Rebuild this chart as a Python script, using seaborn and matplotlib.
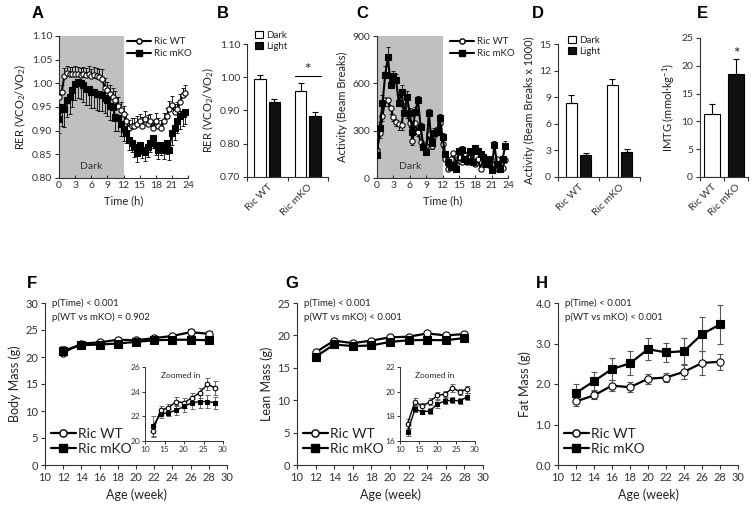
import numpy as np
import pandas as pd
import seaborn as sns
import matplotlib.pyplot as plt
from matplotlib.ticker import FormatStrFormatter, MultipleLocator
from matplotlib.lines import Line2D
from matplotlib.patches import Patch

# ---- data ----
hours = np.arange(0, 24, 0.5)

rer_wt = [0.971, 0.982, 1.015, 1.022, 1.020, 1.019, 1.020, 1.019, 1.017, 1.020, 1.017, 1.019, 1.015,
          1.017, 1.015, 1.013, 1.010, 0.991, 0.985, 0.977, 0.971, 0.965, 0.953, 0.943, 0.936,
          0.920, 0.905, 0.910, 0.910, 0.915, 0.920, 0.910, 0.925, 0.915, 0.920, 0.905, 0.920,
          0.910, 0.905, 0.920, 0.930, 0.945, 0.955, 0.940, 0.945, 0.960, 0.975, 0.980]
rer_wt_err = [0.015, 0.015, 0.018, 0.015, 0.015, 0.016, 0.017, 0.016, 0.016, 0.015, 0.016, 0.017, 0.016,
              0.017, 0.018, 0.018, 0.020, 0.020, 0.018, 0.020, 0.020, 0.018, 0.018, 0.017, 0.016,
              0.016, 0.018, 0.016, 0.017, 0.016, 0.016, 0.018, 0.017, 0.018, 0.016, 0.018, 0.017,
              0.016, 0.017, 0.018, 0.018, 0.017, 0.018, 0.016, 0.016, 0.017, 0.016, 0.017]
rer_ko = [0.925, 0.950, 0.946, 0.964, 0.971, 0.985, 0.999, 1.003, 1.000, 0.996, 0.989, 0.987, 0.982,
          0.982, 0.978, 0.977, 0.975, 0.970, 0.964, 0.953, 0.950, 0.929, 0.927, 0.915, 0.904,
          0.895, 0.880, 0.875, 0.865, 0.852, 0.870, 0.860, 0.855, 0.865, 0.875, 0.885, 0.870,
          0.860, 0.870, 0.860, 0.875, 0.860, 0.895, 0.905, 0.920, 0.930, 0.935, 0.940]
rer_ko_err = [0.030, 0.040, 0.038, 0.035, 0.036, 0.035, 0.034, 0.033, 0.034, 0.035, 0.034, 0.033, 0.034,
              0.035, 0.034, 0.035, 0.033, 0.032, 0.033, 0.030, 0.030, 0.030, 0.028, 0.026, 0.025,
              0.022, 0.020, 0.020, 0.021, 0.018, 0.020, 0.018, 0.020, 0.020, 0.020, 0.021, 0.022,
              0.020, 0.022, 0.020, 0.024, 0.022, 0.025, 0.024, 0.025, 0.026, 0.025, 0.026]

act_wt = [177, 283, 395, 494, 494, 441, 389, 357, 342, 336, 456, 410, 351,
          234, 351, 289, 230, 209, 203, 277, 205, 272, 304, 347, 215,
          120, 60, 120, 160, 90, 130, 100, 150, 100, 130, 110, 90,
          120, 55, 130, 100, 80, 90, 60, 120, 70, 65, 115]
act_wt_err = [20, 30, 35, 40, 40, 35, 30, 30, 35, 30, 35, 30, 30,
              25, 30, 25, 25, 20, 20, 25, 20, 25, 25, 30, 20,
              15, 10, 15, 20, 12, 15, 12, 18, 12, 15, 12, 12,
              15, 10, 15, 12, 10, 12, 10, 15, 10, 10, 15]
act_ko = [146, 315, 473, 653, 765, 589, 646, 621, 473, 547, 410, 515, 410,
          294, 420, 494, 325, 198, 167, 410, 220, 287, 294, 378, 258,
          150, 100, 70, 80, 60, 170, 180, 120, 110, 170, 100, 190,
          170, 150, 130, 90, 120, 50, 210, 90, 60, 120, 205]
act_ko_err = [25, 40, 50, 55, 65, 45, 35, 40, 40, 40, 35, 35, 35,
              30, 30, 25, 25, 20, 20, 25, 25, 30, 30, 30, 25,
              20, 15, 15, 15, 12, 20, 20, 15, 15, 20, 15, 20,
              20, 18, 15, 15, 15, 10, 25, 15, 12, 15, 30]

genotypes = ['Ric WT', 'Ric mKO']
phases = ['Dark', 'Light']

rer_bar = [0.995, 0.925, 0.960, 0.883]      # WT dark, WT light, mKO dark, mKO light
rer_bar_err = [0.013, 0.010, 0.024, 0.013]
act_bar = [8.3, 2.5, 10.4, 2.8]
act_bar_err = [0.9, 0.2, 0.7, 0.35]
imtg = [11.3, 18.5]
imtg_err = [1.8, 2.7]

weeks = [12, 14, 16, 18, 20, 22, 24, 26, 28]
body_wt = [20.8, 22.5, 22.7, 23.2, 23.1, 23.5, 23.9, 24.6, 24.3]
body_wt_err = [0.45, 0.30, 0.30, 0.40, 0.40, 0.40, 0.40, 0.50, 0.55]
body_ko = [21.2, 22.2, 22.3, 22.5, 22.8, 23.1, 23.2, 23.2, 23.1]
body_ko_err = [0.80, 0.35, 0.30, 0.40, 0.45, 0.50, 0.55, 0.55, 0.50]
lean_wt = [17.4, 19.2, 18.8, 19.2, 19.7, 19.8, 20.3, 20.0, 20.2]
lean_wt_err = [0.35, 0.30, 0.30, 0.30, 0.30, 0.25, 0.30, 0.25, 0.30]
lean_ko = [16.7, 18.6, 18.35, 18.45, 19.0, 19.25, 19.3, 19.25, 19.6]
lean_ko_err = [0.30, 0.25, 0.20, 0.25, 0.30, 0.25, 0.25, 0.25, 0.30]
fat_wt = [1.57, 1.72, 1.96, 1.92, 2.13, 2.16, 2.30, 2.52, 2.55]
fat_wt_err = [0.12, 0.10, 0.13, 0.12, 0.12, 0.10, 0.18, 0.30, 0.20]
fat_ko = [1.78, 2.07, 2.37, 2.51, 2.86, 2.78, 2.81, 3.23, 3.47]
fat_ko_err = [0.22, 0.22, 0.28, 0.30, 0.27, 0.23, 0.32, 0.42, 0.48]

# ---- style ----
sns.set_theme(style='ticks')
plt.rcParams['font.family'] = ['Lato', 'DejaVu Sans']
plt.rcParams['mathtext.fontset'] = 'custom'
plt.rcParams['mathtext.rm'] = 'Lato'
plt.rcParams['mathtext.default'] = 'rm'
plt.rcParams['axes.edgecolor'] = '#333333'
plt.rcParams['xtick.color'] = '#333333'
plt.rcParams['ytick.color'] = '#333333'
plt.rcParams['text.color'] = '#222222'
plt.rcParams['axes.labelcolor'] = '#222222'

W, H = 756, 507
fig = plt.figure(figsize=(W / 100, H / 100), dpi=100)


def box(x0, x1, y0, y1):
    # pixel box -> figure fraction
    return [x0 / W, 1 - y1 / H, (x1 - x0) / W, (y1 - y0) / H]


def tidy(ax, fs=7.5, lw=0.8):
    sns.despine(ax=ax)
    for s in ['left', 'bottom']:
        ax.spines[s].set_linewidth(lw)
    ax.tick_params(labelsize=fs, length=3, width=lw, pad=2)


def long_df(x, wt, wt_e, ko, ko_e):
    return pd.DataFrame({
        'x': list(x) * 2,
        'y': list(wt) + list(ko),
        'e': list(wt_e) + list(ko_e),
        'group': [genotypes[0]] * len(wt) + [genotypes[1]] * len(ko),
    })


def draw_series(ax, df, ms, lw, cap, sides=('both', 'both'), ecolor='black', elw=0.7):
    styles = {genotypes[0]: ('o', 'white'), genotypes[1]: ('s', 'black')}
    for g, side in zip(genotypes, sides):
        sub = df[df['group'] == g]
        e = sub['e'].values
        zero = np.zeros_like(e)
        if side == 'up':
            yerr = [zero, e]
        elif side == 'down':
            yerr = [e, zero]
        else:
            yerr = e
        ax.errorbar(sub['x'], sub['y'], yerr=yerr, fmt='none', ecolor=ecolor,
                    elinewidth=elw, capsize=cap, capthick=elw, zorder=1)
        m, fc = styles[g]
        sns.lineplot(data=sub, x='x', y='y', ax=ax, color='black', linewidth=lw,
                     marker=m, markersize=ms, markerfacecolor=fc,
                     markeredgecolor='black', markeredgewidth=0.8, zorder=3,
                     errorbar=None, legend=False)
    ax.set_xlabel('')
    ax.set_ylabel('')


def geno_handles(ms, lw):
    return [Line2D([], [], color='black', lw=lw, marker='o', ms=ms, mfc='white', mec='black'),
            Line2D([], [], color='black', lw=lw, marker='s', ms=ms, mfc='black', mec='black')]


def draw_bars(ax, vals, errs):
    df = pd.DataFrame({'genotype': [genotypes[0]] * 2 + [genotypes[1]] * 2,
                       'phase': phases * 2, 'value': vals, 'err': errs})
    sns.barplot(data=df, x='genotype', y='value', hue='phase', ax=ax,
                palette={'Dark': 'white', 'Light': '#111111'}, edgecolor='black',
                linewidth=0.8, width=0.7, gap=0.2, errorbar=None, legend=False)
    for cont, ph in zip(ax.containers, phases):
        sub = df[df['phase'] == ph]
        xs = [b.get_x() + b.get_width() / 2 for b in cont]
        ax.errorbar(xs, sub['value'], yerr=[np.zeros(len(sub)), sub['err']], fmt='none',
                    ecolor='black', elinewidth=0.8, capsize=2.5, capthick=0.8)
    ax.set_xlim(-0.5, 1.5)
    ax.set_xlabel('')
    ax.set_ylabel('')
    ax.set_xticks([0, 1])
    ax.set_xticklabels(genotypes, rotation=45, ha='right', rotation_mode='anchor')
    ax.set_xticks([-0.5, 0.5, 1.5], minor=True)
    hd = [Patch(facecolor='white', edgecolor='black', lw=0.8),
          Patch(facecolor='#111111', edgecolor='black', lw=0.8)]
    return hd


def bar_ticks(ax):
    ax.tick_params(axis='x', which='major', length=0, pad=4)
    ax.tick_params(axis='x', which='minor', length=3, width=0.8)


# ---- A: RER time course ----
axA = fig.add_axes(box(59, 188, 36, 178))
axA.axvspan(0, 12, color='#c0c0c0', lw=0, zorder=0)
draw_series(axA, long_df(hours, rer_wt, rer_wt_err, rer_ko, rer_ko_err),
            ms=3.8, lw=1.5, cap=1.3, sides=('up', 'down'), elw=0.6)
axA.set_xlim(0, 24)
axA.set_ylim(0.80, 1.10)
axA.set_xticks(range(0, 25, 3))
axA.yaxis.set_major_locator(MultipleLocator(0.05))
axA.yaxis.set_major_formatter(FormatStrFormatter('%.2f'))
tidy(axA)
axA.tick_params(axis='x', direction='in', length=2.5)
axA.set_xlabel('Time (h)', fontsize=8, labelpad=4)
axA.set_ylabel('RER (VCO$_2$/VO$_2$)', fontsize=8, labelpad=3)
axA.text(6, 0.825, 'Dark', ha='center', va='center', fontsize=7.5, color='#333333')
axA.legend(geno_handles(3.8, 1.5), genotypes, loc='upper left', bbox_to_anchor=(0.5, 1.02),
           frameon=False, fontsize=7, handlelength=2.4, handletextpad=0.3, labelspacing=0.3,
           borderaxespad=0)

# ---- B: RER bars ----
axB = fig.add_axes(box(247, 328, 44, 177))
hb = draw_bars(axB, rer_bar, rer_bar_err)
axB.set_ylim(0.70, 1.10)
axB.yaxis.set_major_locator(MultipleLocator(0.10))
axB.yaxis.set_major_formatter(FormatStrFormatter('%.2f'))
tidy(axB)
bar_ticks(axB)
axB.set_ylabel('RER (VCO$_2$/VO$_2$)', fontsize=8, labelpad=3)
axB.plot([0.68, 1.33], [1.005, 1.005], color='black', lw=0.8)
axB.text(1.0, 1.002, '*', ha='center', va='bottom', fontsize=11)
axB.legend(hb, phases, loc='upper left', bbox_to_anchor=(0.05, 1.13), frameon=False,
           fontsize=7, handlelength=0.8, handleheight=0.8, handletextpad=0.3,
           labelspacing=0.2, borderaxespad=0)

# ---- C: activity time course ----
axC = fig.add_axes(box(377, 508, 36, 178))
axC.axvspan(0, 12, color='#c0c0c0', lw=0, zorder=0)
draw_series(axC, long_df(hours, act_wt, act_wt_err, act_ko, act_ko_err),
            ms=3.8, lw=1.5, cap=1.3, sides=('down', 'up'), elw=0.6)
axC.set_xlim(0, 24)
axC.set_ylim(0, 900)
axC.set_xticks(range(0, 25, 3))
axC.yaxis.set_major_locator(MultipleLocator(300))
tidy(axC)
axC.tick_params(axis='x', direction='in', length=2.5)
axC.set_xlabel('Time (h)', fontsize=8, labelpad=4)
axC.set_ylabel('Activity (Beam Breaks)', fontsize=8, labelpad=3)
axC.text(6, 75, 'Dark', ha='center', va='center', fontsize=7.5, color='#333333')
axC.legend(geno_handles(3.8, 1.5), genotypes, loc='upper left', bbox_to_anchor=(0.53, 1.02),
           frameon=False, fontsize=7, handlelength=2.4, handletextpad=0.3, labelspacing=0.3,
           borderaxespad=0)

# ---- D: activity bars ----
axD = fig.add_axes(box(558, 640, 44, 177))
hd = draw_bars(axD, act_bar, act_bar_err)
axD.set_ylim(0, 15)
axD.yaxis.set_major_locator(MultipleLocator(3))
tidy(axD)
bar_ticks(axD)
axD.set_ylabel('Activity (Beam Breaks x 1000)', fontsize=8, labelpad=3)
axD.legend(hd, phases, loc='upper left', bbox_to_anchor=(0.08, 1.09), frameon=False,
           fontsize=7, handlelength=0.8, handleheight=0.8, handletextpad=0.3,
           labelspacing=0.2, borderaxespad=0)

# ---- E: IMTG ----
axE = fig.add_axes(box(700, 748, 38, 177))
dfE = pd.DataFrame({'genotype': genotypes, 'value': imtg, 'err': imtg_err})
sns.barplot(data=dfE, x='genotype', y='value', hue='genotype', ax=axE,
            palette={genotypes[0]: 'white', genotypes[1]: '#111111'}, edgecolor='black',
            linewidth=0.8, width=0.65, errorbar=None, legend=False)
axE.errorbar([0, 1], dfE['value'], yerr=[np.zeros(2), dfE['err']], fmt='none',
             ecolor='black', elinewidth=0.8, capsize=2.5, capthick=0.8)
axE.set_xlim(-0.5, 1.5)
axE.set_ylim(0, 25)
axE.yaxis.set_major_locator(MultipleLocator(5))
tidy(axE)
axE.set_xticks([0, 1])
axE.set_xticklabels(genotypes, rotation=45, ha='right', rotation_mode='anchor')
axE.set_xticks([-0.5, 0.5, 1.5], minor=True)
bar_ticks(axE)
axE.set_xlabel('')
axE.set_ylabel('IMTG (mmol·kg$^{-1}$)', fontsize=8, labelpad=3)
axE.text(1, 20.8, '*', ha='center', va='bottom', fontsize=11)

# ---- F, G, H: body composition ----
panels = [
    ('F', box(45, 227, 303, 465), (0, 30, 5), 'Body Mass (g)', body_wt, body_wt_err, body_ko, body_ko_err,
     'p(WT vs mKO) = 0.902', box(145, 223, 367, 441), (20, 26, 2), '%.0f'),
    ('G', box(297, 483, 303, 465), (0, 25, 5), 'Lean Mass (g)', lean_wt, lean_wt_err, lean_ko, lean_ko_err,
     'p(WT vs mKO) < 0.001', box(400, 475, 367, 441), (16, 22, 2), '%.0f'),
    ('H', box(558, 738, 303, 465), (0, 4, 1), 'Fat Mass (g)', fat_wt, fat_wt_err, fat_ko, fat_ko_err,
     'p(WT vs mKO) < 0.001', None, None, '%.1f'),
]

for name, pos, ylim, ylabel, wt, wt_e, ko, ko_e, ptxt, inset, ilim, fmt in panels:
    ax = fig.add_axes(pos)
    df = long_df(weeks, wt, wt_e, ko, ko_e)
    draw_series(ax, df, ms=5.2, lw=1.6, cap=2.5, ecolor='#555555', elw=0.8)
    ax.set_xlim(10, 30)
    ax.set_xticks(range(10, 31, 2))
    ax.set_ylim(ylim[0], ylim[1])
    ax.yaxis.set_major_locator(MultipleLocator(ylim[2]))
    ax.yaxis.set_major_formatter(FormatStrFormatter(fmt))
    tidy(ax, fs=8)
    ax.set_xlabel('Age (week)', fontsize=9, labelpad=4)
    ax.set_ylabel(ylabel, fontsize=9, labelpad=3)
    ax.text(0.04, 1.0, 'p(Time) < 0.001', transform=ax.transAxes, fontsize=7, va='center')
    ax.text(0.04, 0.915, ptxt, transform=ax.transAxes, fontsize=7, va='center')
    ax.legend(geno_handles(5.2, 1.6), genotypes, loc='lower left', bbox_to_anchor=(0.0, 0.03),
              frameon=False, fontsize=10, handlelength=1.8, handletextpad=0.2, labelspacing=0.2,
              borderaxespad=0)
    if inset is not None:
        ai = fig.add_axes(inset)
        draw_series(ai, df, ms=3.3, lw=1.0, cap=1.8, ecolor='#555555', elw=0.6)
        ai.set_xlim(10, 30)
        ai.set_xticks(range(10, 31, 5))
        ai.set_ylim(ilim[0], ilim[1])
        ai.yaxis.set_major_locator(MultipleLocator(ilim[2]))
        tidy(ai, fs=6, lw=0.7)
        ai.tick_params(length=2, pad=1.5)
        ai.text(0.46, 0.89, 'Zoomed in', transform=ai.transAxes, fontsize=6,
                ha='center', va='center')

# ---- panel letters ----
for letter, (px, py) in {'A': (38, 13), 'B': (223, 13), 'C': (362, 13), 'D': (538, 13),
                         'E': (702, 13), 'F': (32, 284), 'G': (292, 284), 'H': (542, 284)}.items():
    fig.text(px / W, 1 - py / H, letter, fontsize=12, fontweight='bold',
             family='Liberation Sans', ha='center', va='center', color='black')

fig.savefig('out.png', dpi=100)
